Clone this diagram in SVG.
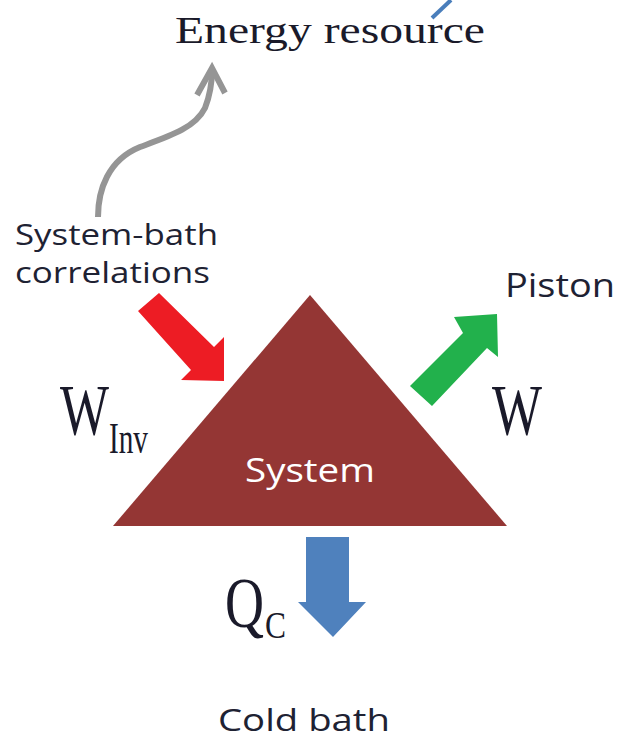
<svg xmlns="http://www.w3.org/2000/svg" width="619" height="740" viewBox="0 0 619 740">
<style>
.sans{font-family:"Open Sans","Liberation Sans",sans-serif;fill:#1e2233}
.serif{font-family:"Liberation Serif","DejaVu Serif",serif;fill:#1a1a2a}
</style>
<rect width="619" height="740" fill="#fff"/>
<g id="connectors">
  <path d="M98,217 C98,190 108,160 140,147 C170,136 195,128 205,108 C210,95 212,82 212,70" fill="none" stroke="#959595" stroke-width="6"/>
  <path d="M197,95 L212,68 L225,93" fill="none" stroke="#959595" stroke-width="6" stroke-linejoin="miter"/>
  <line x1="432" y1="18" x2="451" y2="0" stroke="#4a7ebb" stroke-width="4"/>
  <polygon id="red-arrow" points="159,293 214,347 224,337 224,381 181,380 191,370 138,311" fill="#ed1c24"/>
  <polygon id="green-arrow" points="410,386 463,333 454,317 497,314 498,357 487,348 432,406" fill="#22b14c"/>
  <polygon id="blue-arrow" points="306,537 349,537 349,602 366,602 333,637 298,602 306,602" fill="#4f81bd"/>
</g>
<g id="energy-resource">
  <text class="serif" x="175" y="43" font-size="38" textLength="310" lengthAdjust="spacingAndGlyphs">Energy resource</text>
</g>
<g id="system-bath">
  <text class="sans" x="15" y="245" font-size="30" textLength="203" lengthAdjust="spacingAndGlyphs">System-bath</text>
  <text class="sans" x="15" y="283" font-size="30" textLength="195" lengthAdjust="spacingAndGlyphs">correlations</text>
</g>
<g id="system">
  <polygon points="310,295 507,526 113,526" fill="#943634"/>
  <text x="310" y="482" font-size="32" text-anchor="middle" font-family="Open Sans, Liberation Sans, sans-serif" fill="#fff" textLength="130" lengthAdjust="spacingAndGlyphs">System</text>
</g>
<g id="piston">
  <text class="sans" x="505" y="297" font-size="32" textLength="110" lengthAdjust="spacingAndGlyphs">Piston</text>
</g>
<g id="w-label">
  <text class="serif" x="492" y="434" font-size="72" textLength="50" lengthAdjust="spacingAndGlyphs">W</text>
</g>
<g id="winv-label">
  <text class="serif" x="60" y="434" font-size="72" textLength="49" lengthAdjust="spacingAndGlyphs">W</text>
  <text class="serif" x="109" y="453" font-size="44" textLength="39" lengthAdjust="spacingAndGlyphs">Inv</text>
</g>
<g id="qc-label">
  <text class="serif" x="225" y="627" font-size="72" textLength="39" lengthAdjust="spacingAndGlyphs">Q</text>
  <text class="serif" x="265" y="638" font-size="38" textLength="21" lengthAdjust="spacingAndGlyphs">C</text>
</g>
<g id="cold-bath">
  <text class="sans" x="218" y="731" font-size="31" textLength="172" lengthAdjust="spacingAndGlyphs">Cold bath</text>
</g>
</svg>
